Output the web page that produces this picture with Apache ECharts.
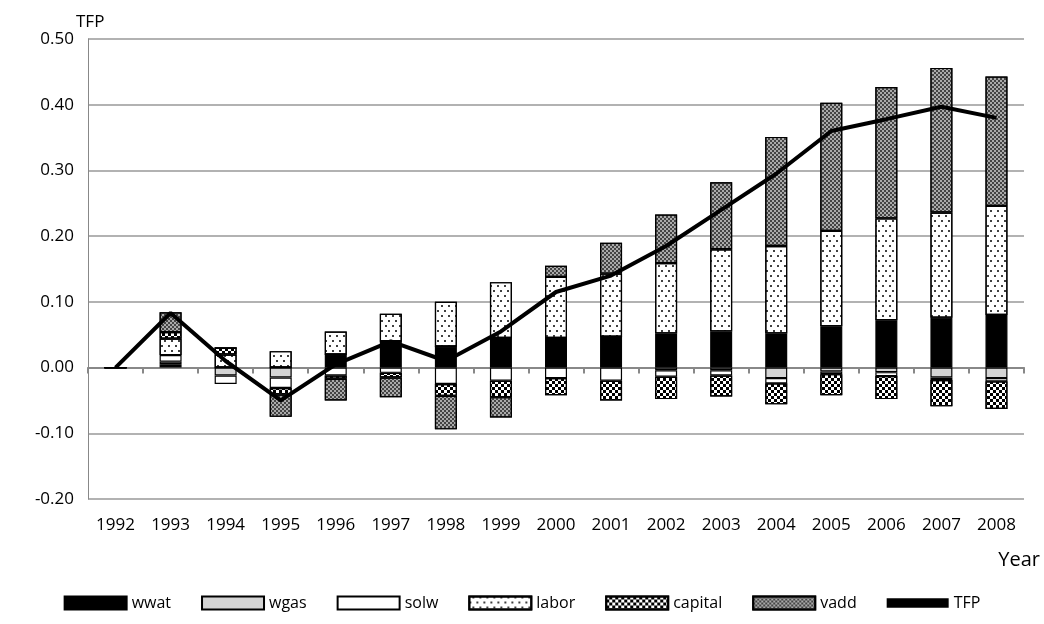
<!DOCTYPE html>
<html lang="en">
<head>
    <meta charset="UTF-8">
    <title>TFP</title>
    <script src="https://cdn.jsdelivr.net/npm/echarts@6/dist/echarts.min.js"></script>
</head>
<body style="margin:0">
    <div id="main" style="width: 1044px;height:624px;"></div>
    <script>
        var years = ['1992','1993','1994','1995','1996','1997','1998','1999','2000','2001','2002','2003','2004','2005','2006','2007','2008'];
        var wwat = [0, 0.005, 0, 0, 0.02, 0.04, 0.032, 0.045, 0.045, 0.047, 0.052, 0.055, 0.052, 0.063, 0.072, 0.076, 0.08];
        var wgas = [0, 0.004, -0.012, -0.015, 0, 0, 0, 0, 0, 0, -0.004, -0.004, -0.016, -0.006, -0.007, -0.015, -0.016];
        var solw = [0, 0.01, -0.013, -0.016, -0.012, -0.008, -0.025, -0.02, -0.016, -0.02, -0.01, -0.008, -0.008, -0.004, -0.006, -0.004, -0.005];
        var labor = [0, 0.025, 0.02, 0.025, 0.035, 0.042, 0.068, 0.085, 0.093, 0.096, 0.107, 0.125, 0.133, 0.145, 0.155, 0.16, 0.166];
        var capital = [0, 0.01, 0.01, -0.01, -0.005, -0.007, -0.018, -0.025, -0.026, -0.03, -0.034, -0.032, -0.032, -0.032, -0.035, -0.04, -0.042];
        var vadd = [0, 0.03, 0, -0.034, -0.033, -0.03, -0.051, -0.031, 0.017, 0.047, 0.074, 0.102, 0.166, 0.195, 0.2, 0.22, 0.197];
        var tfp = [0, 0.083, 0.01, -0.05, 0.005, 0.04, 0.01, 0.055, 0.115, 0.14, 0.185, 0.24, 0.295, 0.36, 0.378, 0.397, 0.38];

        var dots = { symbol: 'circle', symbolSize: 1, color: '#000', dashArrayX: [[1.5, 4.5], [0, 3, 1.5, 1.5]], dashArrayY: [1.5, 3] };
        var checks = { symbol: 'rect', symbolSize: 1, color: '#000', dashArrayX: [[3, 3], [0, 3, 3, 0]], dashArrayY: [3, 0] };
        var darkChecks = { symbol: 'rect', symbolSize: 1, color: '#444', dashArrayX: [[2, 2], [0, 2, 2, 0]], dashArrayY: [2, 0] };

        function bar(name, data, color, decal) {
            var s = {
                name: name, type: 'bar', stack: 'all', data: data, barWidth: 22,
                itemStyle: { color: color, borderColor: '#000', borderWidth: 1.2 }
            };
            if (decal) s.itemStyle.decal = decal;
            return s;
        }

        var myChart = echarts.init(document.getElementById('main'));
        var option = {
            animation: false,
            textStyle: { fontFamily: 'Open Sans', color: '#000' },
            grid: { left: 88, right: 20, top: 39, bottom: 125, outerBoundsMode: 'none' },
            legend: {
                bottom: 8, left: 'center', itemWidth: 62, itemHeight: 13, itemGap: 30,
                icon: 'rect',
                textStyle: { fontSize: 16, fontFamily: 'Open Sans', color: '#000' },
                data: ['wwat', 'wgas', 'solw', 'labor', 'capital', 'vadd',
                    { name: 'TFP', icon: 'path://M0,0h20v3h-20z' }]
            },
            xAxis: [{
                type: 'category', data: years,
                axisLine: { show: false, onZero: false },
                axisTick: { show: false },
                axisLabel: { fontSize: 17, color: '#000', margin: 18, interval: 0 }
            }, {
                type: 'category', data: years, position: 'bottom',
                axisLine: { onZero: true, lineStyle: { color: '#888', width: 2 } },
                axisTick: { show: true, lineStyle: { color: '#888', width: 2 }, length: 6 },
                axisLabel: { show: false }
            }],
            yAxis: {
                type: 'value', min: -0.2, max: 0.5, interval: 0.1,
                name: 'TFP', nameGap: 6, nameTextStyle: { fontSize: 17, align: 'left', padding: [0, 0, 0, -12] },
                axisLine: { show: true, lineStyle: { color: '#888', width: 1 } },
                splitLine: { lineStyle: { color: '#999', width: 1.5 } },
                axisLabel: { fontSize: 17, color: '#000', margin: 14, formatter: function (v) { return v.toFixed(2); } }
            },
            graphic: [{
                type: 'text', right: 4, top: 550,
                style: { text: 'Year', fontSize: 20, fontFamily: 'Open Sans', fill: '#000' }
            }],
            series: [
                bar('wwat', wwat, '#000'),
                bar('wgas', wgas, '#d4d4d4'),
                bar('solw', solw, '#fff'),
                bar('labor', labor, '#fff', dots),
                bar('capital', capital, '#fff', checks),
                bar('vadd', vadd, '#aaa', darkChecks),
                {
                    name: 'TFP', type: 'line', data: tfp, symbol: 'none',
                    lineStyle: { color: '#000', width: 4 }, itemStyle: { color: '#000' }
                }
            ]
        };
        myChart.setOption(option);
    </script>
</body>
</html>
